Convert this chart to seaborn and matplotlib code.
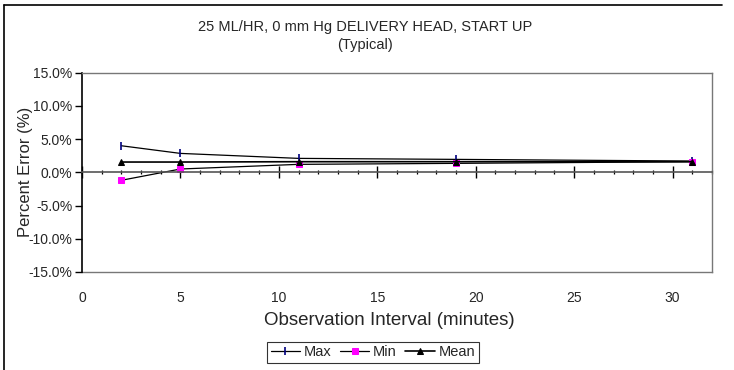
import numpy as np
import pandas as pd
import matplotlib.pyplot as plt
import matplotlib.ticker as mticker
from matplotlib.lines import Line2D
import seaborn as sns

# values
interval = [2, 5, 11, 19, 31]
max_err = [4.0, 2.85, 2.1, 1.95, 1.7]
min_err = [-1.2, 0.5, 1.2, 1.35, 1.6]
mean_err = [1.55, 1.55, 1.6, 1.6, 1.6]
x_ticks = [0, 5, 10, 15, 20, 25, 30]

sns.set_theme(style="white")
plt.rcParams['font.family'] = ['Liberation Sans', 'DejaVu Sans']

df = pd.DataFrame({'interval': interval, 'Max': max_err, 'Min': min_err, 'Mean': mean_err})

fig = plt.figure(figsize=(7.34, 3.70), dpi=100)
ax = fig.add_axes([0.1117, 0.265, 0.8583, 0.5385])

sns.lineplot(data=df, x='interval', y='Max', ax=ax, color='black', lw=0.9,
             marker='|', markersize=5.5, markeredgecolor='navy', markeredgewidth=1.2, label='Max')
sns.lineplot(data=df, x='interval', y='Min', ax=ax, color='black', lw=0.9,
             marker='s', markersize=4, markerfacecolor='magenta', markeredgecolor='magenta', label='Min')
sns.lineplot(data=df, x='interval', y='Mean', ax=ax, color='black', lw=1.2,
             marker='^', markersize=4.5, markerfacecolor='black', markeredgecolor='black', label='Mean')

ax.set_xlim(0, 32)
ax.set_ylim(-15, 15)

# y axis
ax.yaxis.set_major_locator(mticker.MultipleLocator(5))
ax.yaxis.set_major_formatter(mticker.FuncFormatter(lambda v, p: f"{v:.1f}%"))
ax.tick_params(axis='y', which='major', direction='out', length=5, width=1, color='black',
               labelsize=10, pad=2, left=True)
ax.spines['left'].set_color('black')
ax.spines['left'].set_linewidth(1.2)

# x axis drawn at 0%
ax.spines['bottom'].set_position(('data', 0))
ax.spines['bottom'].set_color('#555555')
ax.spines['bottom'].set_linewidth(1.2)
ax.xaxis.set_major_locator(mticker.MultipleLocator(5))
ax.xaxis.set_minor_locator(mticker.MultipleLocator(1))
ax.tick_params(axis='x', which='major', direction='inout', length=8, width=1, color='black',
               labelbottom=False, bottom=True)
ax.tick_params(axis='x', which='minor', direction='inout', length=3.5, width=0.9, color='black', bottom=True)

for s in ['top', 'right']:
    ax.spines[s].set_color('#777777')
    ax.spines[s].set_linewidth(1)

# labels along the bottom edge
sec = ax.secondary_xaxis('bottom')
sec.xaxis.set_major_locator(mticker.FixedLocator(x_ticks))
sec.tick_params(length=0, labelsize=10, pad=14)
sec.spines['bottom'].set_color('#777777')
sec.spines['bottom'].set_linewidth(1)

ax.set_xlabel('')
ax.set_ylabel('Percent Error (%)', fontsize=12, labelpad=-3)
fig.text(0.53, 0.135, 'Observation Interval (minutes)', ha='center', va='center', fontsize=13.5)

fig.text(0.497, 0.926, '25 ML/HR, 0 mm Hg DELIVERY HEAD, START UP', ha='center', va='center', fontsize=10.5)
fig.text(0.497, 0.879, '(Typical)', ha='center', va='center', fontsize=10.5)

ax.legend_.remove()
h, l = ax.get_legend_handles_labels()
leg = fig.legend(h, l, loc='center', bbox_to_anchor=(0.508, 0.0475), ncol=3, fontsize=10.5,
                 frameon=True, fancybox=False, handlelength=2.0, handletextpad=0.25,
                 columnspacing=0.6, borderpad=0.25, borderaxespad=0)
leg.get_frame().set_edgecolor('black')
leg.get_frame().set_linewidth(0.8)

# outer chart border (partly cropped in the reference)
fig.add_artist(Line2D([4 / 734, 4 / 734], [0, 1 - 5 / 370], color='black', lw=1.2, transform=fig.transFigure))
fig.add_artist(Line2D([4 / 734, 722 / 734], [1 - 5 / 370, 1 - 5 / 370], color='black', lw=1.2, transform=fig.transFigure))

fig.savefig('out.png', dpi=100)
